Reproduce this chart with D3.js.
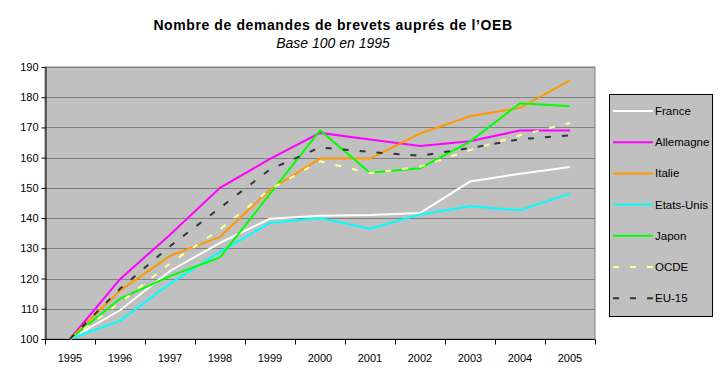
<!DOCTYPE html>
<html><head><meta charset="utf-8">
<script src="https://cdn.jsdelivr.net/npm/d3@7"></script>
<style>
body{margin:0;background:#fff;}
svg text{font-family:"Liberation Sans",Arial,sans-serif;}
</style></head>
<body><svg id="chart" width="722" height="383"></svg>
<script>
const years = ["1995","1996","1997","1998","1999","2000","2001","2002","2003","2004","2005"];
const yTicks = [100,110,120,130,140,150,160,170,180,190];
const seriesNames = ["France","Allemagne","Italie","Etats-Unis","Japon","OCDE","EU-15"];
const france    = [100,109.5,122.5,131.8,139.8,140.8,141.0,141.7,152.1,154.7,156.9];
const allemagne = [100,119.8,134.5,150.0,159.6,168.2,166.0,163.9,165.4,169.0,169.0];
const italie    = [100,116.0,127.5,133.8,149.4,159.7,159.7,168.0,173.7,176.5,185.6];
const etatsUnis = [100,106.0,118.3,128.8,138.4,140.0,136.5,141.2,143.9,142.6,148.1];
const japon     = [100,113.3,120.8,127.0,148.0,169.0,155.0,156.5,165.3,178.0,177.0];
const ocde      = [100,112.0,125.0,136.3,149.5,158.8,154.9,157.0,162.5,167.4,171.5];
const eu15      = [100,116.6,130.7,143.4,156.1,163.4,161.9,160.6,163.2,166.1,167.4];

const seriesData = [france, allemagne, italie, etatsUnis, japon, ocde, eu15];
const colors = ["#FFFFFF","#FF00FF","#FF9900","#00FFFF","#00FF00","#FFFF99","#333333"];
const dashes = [null,null,null,null,null,"6,11","6,11"];

const svg = d3.select("#chart");
const m = {left:45, right:595, top:67, bottom:339};

const x = d3.scaleBand().domain(years).range([m.left, m.right]).padding(0);
const y = d3.scaleLinear().domain([100,190]).range([m.bottom, m.top]);

// title
svg.append("text").attr("x",333).attr("y",30).attr("text-anchor","middle")
  .style("font-weight","bold").style("font-size","14px").style("letter-spacing","0.6px")
  .text("Nombre de demandes de brevets auprés de l’OEB");
svg.append("text").attr("x",333).attr("y",48).attr("text-anchor","middle")
  .style("font-style","italic").style("font-size","14px")
  .text("Base 100 en 1995");

// plot area
svg.append("rect").attr("x",m.left).attr("y",m.top).attr("width",m.right-m.left).attr("height",m.bottom-m.top)
  .attr("fill","#C0C0C0").attr("stroke","#808080").attr("stroke-width",1);

// grid
svg.append("g").selectAll("line").data(yTicks.slice(1)).join("line")
  .attr("x1",m.left).attr("x2",m.right)
  .attr("y1",d=>Math.round(y(d))+0.5).attr("y2",d=>Math.round(y(d))+0.5)
  .attr("stroke","#808080").attr("stroke-width",1);

// y axis
const yAxis = svg.append("g").attr("transform",`translate(${m.left+0.5},0)`)
  .call(d3.axisLeft(y).tickValues(yTicks).tickSize(4).tickSizeOuter(0).tickFormat(d3.format("d")));
yAxis.select(".domain").attr("stroke","#000");
yAxis.selectAll(".tick line").attr("stroke","#000");
yAxis.selectAll("text").style("font-size","11px").attr("fill","#000").attr("x",-7);

// x axis
const xg = svg.append("g").attr("transform",`translate(0,${m.bottom+0.5})`);
xg.append("line").attr("x1",m.left).attr("x2",m.right).attr("stroke","#000");
const bounds = years.map(d=>x(d)).concat([x(years[years.length-1])+x.bandwidth()]);
xg.selectAll("line.tk").data(bounds).join("line").attr("class","tk")
  .attr("x1",d=>Math.round(d)+0.5).attr("x2",d=>Math.round(d)+0.5).attr("y1",0).attr("y2",5).attr("stroke","#000");
xg.selectAll("text").data(years).join("text")
  .attr("x",d=>x(d)+x.bandwidth()/2).attr("y",22).attr("text-anchor","middle")
  .style("font-size","11px").text(d=>d);

// lines
const line = d3.line().x((d,i)=>x(years[i])+x.bandwidth()/2).y(d=>y(d));
seriesData.forEach((s,i)=>{
  svg.append("path").datum(s).attr("d",line).attr("fill","none")
    .attr("stroke",colors[i]).attr("stroke-width",2)
    .attr("stroke-dasharray",dashes[i]);
});

// legend
const lg = svg.append("g");
lg.append("rect").attr("x",609.5).attr("y",94.5).attr("width",103).attr("height",222)
  .attr("fill","#C0C0C0").attr("stroke","#000");
seriesNames.forEach((n,i)=>{
  const yy = 111 + i*31.2;
  lg.append("line").attr("x1",613).attr("x2",653).attr("y1",yy).attr("y2",yy)
    .attr("stroke",colors[i]).attr("stroke-width",2).attr("stroke-dasharray",dashes[i]);
  lg.append("text").attr("x",655).attr("y",yy+4).style("font-size","11.5px").text(n);
});
</script></body></html>
